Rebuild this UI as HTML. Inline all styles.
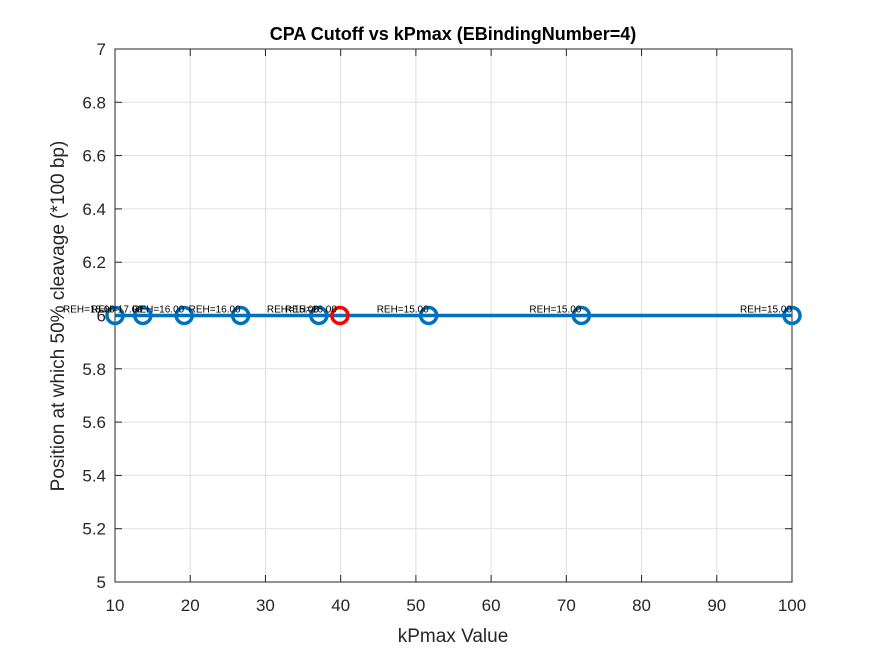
<!DOCTYPE html>
<html><head><style>
body{margin:0;background:#fff;}
svg{font-family:"Liberation Sans",sans-serif;}
</style></head><body>
<svg id="chart" width="875" height="656">
<rect x="0" y="0" width="875" height="656" fill="#fff"/>
<g id="grid"></g>
<rect x="115" y="49" width="677" height="533" fill="none" stroke="#262626" stroke-width="1"/>
<g id="ticks"></g>
<g id="series"></g>
<text x="453" y="40" text-anchor="middle" font-size="18" font-weight="bold" fill="#000">CPA Cutoff vs kPmax (EBindingNumber=4)</text>
<text x="453" y="642" text-anchor="middle" font-size="19" fill="#262626">kPmax Value</text>
<text transform="translate(64,316) rotate(-90)" text-anchor="middle" font-size="19" fill="#262626">Position at which 50% cleavage (*100 bp)</text>
</svg>
<script>
const xVals=[10,13.7,19.2,26.7,37.1,51.7,72,100];
const yVals=[6,6,6,6,6,6,6,6];
const labels=["REH=18.00","REH=17.00","REH=16.00","REH=16.00","REH=15.00","REH=15.00","REH=15.00","REH=15.00"];
const optX=[39.9];
const optY=[6];
const optLabels=["REH=16.00"];
const xTicks=[10,20,30,40,50,60,70,80,90,100];
const yTicks=[5,5.2,5.4,5.6,5.8,6,6.2,6.4,6.6,6.8,7];
const NS="http://www.w3.org/2000/svg";
const X=v=>115+(v-10)/90*677;
const Y=v=>582-(v-5)/2*533;
function mk(tag,attrs,parent){const e=document.createElementNS(NS,tag);for(const k in attrs)e.setAttribute(k,attrs[k]);parent.appendChild(e);return e;}
const grid=document.getElementById('grid'),ticks=document.getElementById('ticks'),ser=document.getElementById('series');
xTicks.forEach(t=>{
 const g=mk('line',{x1:X(t),x2:X(t),y1:49,y2:582,stroke:'#dfdfdf','stroke-width':1},grid);
 
 
 mk('line',{x1:X(t),x2:X(t),y1:582,y2:575,stroke:'#262626'},ticks);
 mk('line',{x1:X(t),x2:X(t),y1:49,y2:56,stroke:'#262626'},ticks);
 const tx=mk('text',{x:X(t),y:611,'text-anchor':'middle','font-size':17,fill:'#262626'},ticks);
 tx.textContent=t;
 
 
});
yTicks.forEach(t=>{
 const g=mk('line',{x1:115,x2:792,y1:Y(t),y2:Y(t),stroke:'#dfdfdf','stroke-width':1},grid);
 
 
 mk('line',{x1:115,x2:122,y1:Y(t),y2:Y(t),stroke:'#262626'},ticks);
 mk('line',{x1:792,x2:785,y1:Y(t),y2:Y(t),stroke:'#262626'},ticks);
 const tx=mk('text',{x:106,y:Y(t)+6,'text-anchor':'end','font-size':17,fill:'#262626'},ticks);
 tx.textContent=(Number.isInteger(t)?t:t.toFixed(1));
 
 
});
const line=mk('polyline',{points:xVals.map((v,i)=>X(v)+','+Y(yVals[i])).join(' '),fill:'none',stroke:'#0072bd','stroke-width':3.5},ser);


xVals.forEach((v,i)=>{
 const c=mk('circle',{cx:X(v),cy:Y(yVals[i]),r:8,fill:'none',stroke:'#0072bd','stroke-width':3.5},ser);
 
 
 const l=mk('text',{x:X(v),y:Y(yVals[i])-3,'text-anchor':'end','font-size':10,fill:'#000'},ser);
 l.textContent=labels[i];
 
 
});
optX.forEach((v,i)=>{
 const c=mk('circle',{cx:X(v),cy:Y(optY[i]),r:8,fill:'none',stroke:'#ff0000','stroke-width':3.5},ser);
 
 
 const l=mk('text',{x:X(v)-3,y:Y(optY[i])-3,'text-anchor':'end','font-size':10,fill:'#000'},ser);
 l.textContent=optLabels[i];
 
 
});
</script>
</body></html>
